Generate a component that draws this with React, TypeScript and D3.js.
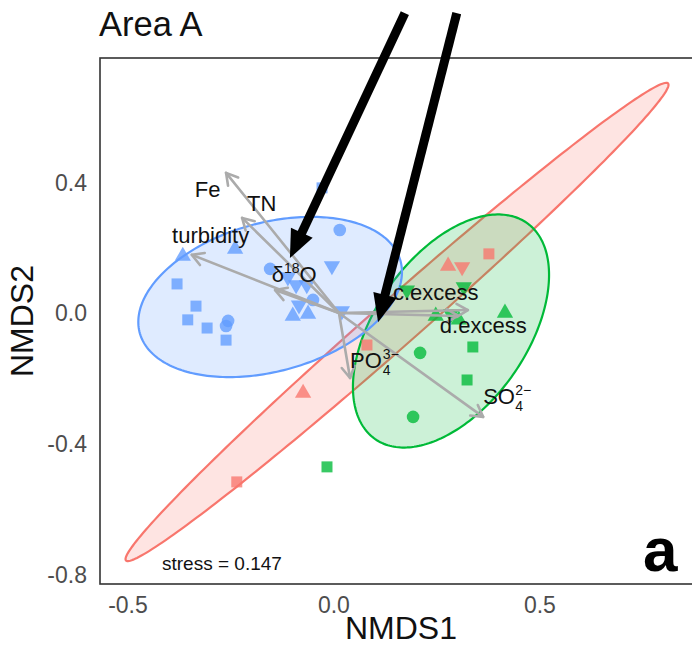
import React from "react";
import * as d3 from "d3";

const W = 692;
const H = 653;
const FONT = "'Liberation Sans', Arial, Helvetica, sans-serif";

// ---- axes ----
const xDomain = [-0.58, 0.891];
const yDomain = [-0.8295, 0.7805];
const xTicks = [-0.5, 0, 0.5];
const xTickLabels = ["-0.5", "0.0", "0.5"];
const yTicks = [0.4, 0, -0.4, -0.8];
const yTickLabels = ["0.4", "0.0", "-0.4", "-0.8"];

// ---- groups (colour order: blue, red, green) ----
const groupColors = ["#619CFF", "#F8766D", "#00BA38"];

// blue group samples
const blueX = [-0.379, -0.252, -0.393, -0.347, -0.367, -0.32, -0.269, -0.274, -0.274, -0.041, 0.002, -0.167, -0.124, -0.017, -0.104, -0.078, -0.063, -0.097, -0.112, -0.075, 0.007];
const blueY = [0.174, 0.196, 0.089, 0.021, -0.021, -0.046, -0.024, -0.04, -0.083, 0.383, 0.254, 0.135, 0.11, 0.144, 0.086, 0.086, 0.04, 0.024, -0.009, -0.003, 0.006];
const blueShape = ["tri", "tri", "sq", "sq", "sq", "sq", "circ", "circ", "sq", "sq", "circ", "circ", "down", "down", "down", "down", "circ", "down", "tri", "tri", "down"];

// red group samples
const redX = [-0.248, -0.087, 0.068, 0.364, 0.265, 0.299];
const redY = [-0.517, -0.245, -0.098, 0.181, 0.144, 0.141];
const redShape = ["sq", "tri", "sq", "sq", "tri", "down"];

// green group samples
const greenX = [0.165, 0.303, 0.403, 0.235, 0.272, 0.291, 0.325, 0.311, 0.197, 0.18, -0.029];
const greenY = [0.07, 0.08, 0.0, -0.009, -0.003, -0.021, -0.104, -0.205, -0.122, -0.318, -0.471];
const greenShape = ["down", "down", "tri", "tri", "down", "tri", "sq", "sq", "circ", "circ", "sq"];

// ---- 95% ellipses: centre + two conjugate semi-axes (data units), order blue, red, green ----
const ellCx = [-0.167, 0.141, 0.272];
const ellCy = [0.049, -0.0275, -0.0551];
const ellAx = [0.32, 0.658, 0.184];
const ellAy = [0.0765, 0.73, 0.331];
const ellBx = [0, 0.0369, 0.151];
const ellBy = [-0.233, -0.053, -0.133];

// ---- fitted environmental vectors ----
const vecNames = ["Fe", "TN", "turbidity", "d18O", "c.excess", "d.excess", "PO4", "SO4"];
const vecX = [-0.274, -0.235, -0.357, -0.155, 0.313, 0.289, 0.027, 0.35];
const vecY = [0.429, 0.291, 0.178, 0.07, 0.009, -0.009, -0.199, -0.318];
// label anchors (left, baseline) in data units
const labX = [-0.35, -0.223, -0.405, -0.163, 0.131, 0.245, 0.027, 0.35];
const labY = [0.355, 0.312, 0.214, 0.095, 0.04, -0.061, -0.168, -0.279];

// ---- annotation arrows (data units): start -> tip ----
const annStartX = [0.16, 0.286];
const annStartY = [0.918, 0.918];
const annTipX = [-0.119, 0.095];
const annTipY = [0.168, -0.028];

const stressText = "stress = 0.147";
const titleText = "Area A";
const panelTag = "a";

export default function App() {
  const left = 100, top = 58, right = 706, bottom = 584;
  const x = d3.scaleLinear().domain(xDomain).range([left, right]);
  const y = d3.scaleLinear().domain(yDomain).range([bottom, top]);

  const ellipse = (i: number) => {
    const pts = d3.range(0, 241).map((k) => {
      const t = (k / 240) * 2 * Math.PI;
      return [
        x(ellCx[i] + ellAx[i] * Math.cos(t) + ellBx[i] * Math.sin(t)),
        y(ellCy[i] + ellAy[i] * Math.cos(t) + ellBy[i] * Math.sin(t)),
      ] as [number, number];
    });
    return (d3.line()(pts) || "") + "Z";
  };

  const symPath = (s: string) => {
    if (s === "circ") return d3.symbol().type(d3.symbolCircle).size(125)() || "";
    if (s === "sq") return d3.symbol().type(d3.symbolSquare).size(121)() || "";
    return d3.symbol().type(d3.symbolTriangle).size(115)() || "";
  };

  const points = (xs: number[], ys: number[], shapes: string[], color: string, key: string) =>
    xs.map((v, i) => (
      <path
        key={key + i}
        d={symPath(shapes[i])}
        transform={`translate(${x(v)},${y(ys[i])})${shapes[i] === "down" ? " rotate(180)" : ""}`}
        fill={color}
        fillOpacity={0.78}
      />
    ));

  const x0 = x(0), y0 = y(0);
  const openHead = (tx: number, ty: number, fx: number, fy: number, len: number) => {
    const ang = Math.atan2(ty - fy, tx - fx);
    const a1 = ang + Math.PI - Math.PI / 6;
    const a2 = ang + Math.PI + Math.PI / 6;
    return `M${tx + len * Math.cos(a1)},${ty + len * Math.sin(a1)}L${tx},${ty}L${tx + len * Math.cos(a2)},${ty + len * Math.sin(a2)}`;
  };

  const labelFs = 22;
  const smallFs = 14;

  const renderLabel = (i: number) => {
    const lx = x(labX[i]);
    const ly = y(labY[i]);
    const name = vecNames[i];
    const common = { fontFamily: FONT, fill: "#111" };
    if (name === "d18O") {
      return (
        <text key={"l" + i} x={lx} y={ly} fontSize={labelFs} {...common}>
          δ<tspan fontSize={smallFs} dy={-9}>18</tspan>
          <tspan dy={9}>O</tspan>
        </text>
      );
    }
    if (name === "PO4" || name === "SO4") {
      const base = name === "PO4" ? "PO" : "SO";
      const sup = name === "PO4" ? "3−" : "2−";
      const w = name === "PO4" ? 31.8 : 31.0;
      return (
        <g key={"l" + i}>
          <text x={lx} y={ly} fontSize={labelFs} {...common}>{base}</text>
          <text x={lx + w + 1} y={ly - 9} fontSize={smallFs} {...common}>{sup}</text>
          <text x={lx + w + 1} y={ly + 7} fontSize={smallFs} {...common}>4</text>
        </g>
      );
    }
    return (
      <text key={"l" + i} x={lx} y={ly} fontSize={labelFs} {...common}>
        {name}
      </text>
    );
  };

  const blackArrow = (i: number) => {
    const sx = x(annStartX[i]), sy = y(annStartY[i]);
    const tx = x(annTipX[i]), ty = y(annTipY[i]);
    const ang = Math.atan2(ty - sy, tx - sx);
    const hl = 28, hw = 12;
    const bx = tx - hl * Math.cos(ang), by = ty - hl * Math.sin(ang);
    const px = -Math.sin(ang), py = Math.cos(ang);
    return (
      <g key={"ba" + i}>
        <line x1={sx} y1={sy} x2={bx + 2 * Math.cos(ang)} y2={by + 2 * Math.sin(ang)} stroke="#000" strokeWidth={9} />
        <path d={`M${tx},${ty}L${bx + hw * px},${by + hw * py}L${bx - hw * px},${by - hw * py}Z`} fill="#000" />
      </g>
    );
  };

  return (
    <svg width={W} height={H} style={{ position: "absolute", left: 0, top: 0, background: "#fff" }}>
      <rect x={0} y={0} width={W} height={H} fill="#fff" />
      {/* title */}
      <text x={99} y={36} fontSize={34.5} fontFamily={FONT} fill="#111">{titleText}</text>

      {/* ellipses: red, green, blue */}
      {[1, 2, 0].map((i) => (
        <path key={"e" + i} d={ellipse(i)} fill={groupColors[i]} fillOpacity={0.2} stroke={groupColors[i]} strokeWidth={2.2} />
      ))}

      {/* points */}
      {points(redX, redY, redShape, groupColors[1], "r")}
      {points(greenX, greenY, greenShape, groupColors[2], "g")}
      {points(blueX, blueY, blueShape, groupColors[0], "b")}

      {/* vectors */}
      {vecX.map((vx, i) => {
        const tx = x(vx), ty = y(vecY[i]);
        return (
          <g key={"v" + i} stroke="#ABABAB" strokeWidth={2.6} fill="none" strokeLinecap="round" strokeLinejoin="round">
            <line x1={x0} y1={y0} x2={tx} y2={ty} />
            <path d={openHead(tx, ty, x0, y0, 13)} />
          </g>
        );
      })}
      {vecNames.map((_, i) => renderLabel(i))}

      {/* panel border */}
      <rect x={left} y={top} width={right - left} height={bottom - top} fill="none" stroke="#333" strokeWidth={1.6} />

      {/* stress & tag */}
      <text x={162} y={570} fontSize={19} fontFamily={FONT} fill="#111">{stressText}</text>
      <text x={643} y={571} fontSize={62} fontWeight="bold" fontFamily={FONT} fill="#000">{panelTag}</text>

      {/* axes tick labels */}
      {xTicks.map((t, i) => (
        <text key={"xt" + i} x={x(t)} dx={-5} y={613} textAnchor="middle" fontSize={23} fontFamily={FONT} fill="#4D4D4D">
          {xTickLabels[i]}
        </text>
      ))}
      {yTicks.map((t, i) => (
        <text key={"yt" + i} x={87} y={y(t)} dy="0.36em" textAnchor="end" fontSize={23} fontFamily={FONT} fill="#4D4D4D">
          {yTickLabels[i]}
        </text>
      ))}
      <text x={401} y={639} textAnchor="middle" fontSize={32} fontFamily={FONT} fill="#111">NMDS1</text>
      <text transform={`translate(33,${(top + bottom) / 2}) rotate(-90)`} textAnchor="middle" fontSize={32} fontFamily={FONT} fill="#111">NMDS2</text>

      {/* annotation arrows */}
      {[0, 1].map((i) => blackArrow(i))}
    </svg>
  );
}
